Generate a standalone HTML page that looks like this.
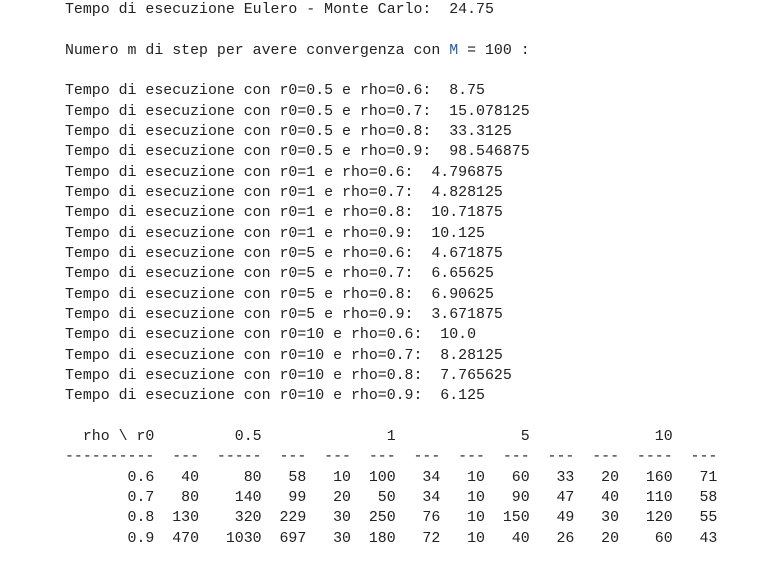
<!DOCTYPE html>
<html>
<head>
<meta charset="utf-8">
<style>
  html, body { margin: 0; padding: 0; background: #ffffff; width: 764px; height: 583px; overflow: hidden; }
  pre {
    margin: 0;
    position: absolute;
    left: 65px;
    top: 0px;
    font-family: "Liberation Mono", monospace;
    font-size: 14.9px;
    line-height: 20.33px;
    color: #212121;
  }
  .blue { color: #2a5db0; }
</style>
</head>
<body>
<pre><span>Tempo di esecuzione Eulero - Monte Carlo:  24.75</span>

<span>Numero m di step per avere convergenza con <span class="blue">M</span> = 100 :</span>

<span>Tempo di esecuzione con r0=0.5 e rho=0.6:  8.75
Tempo di esecuzione con r0=0.5 e rho=0.7:  15.078125
Tempo di esecuzione con r0=0.5 e rho=0.8:  33.3125
Tempo di esecuzione con r0=0.5 e rho=0.9:  98.546875
Tempo di esecuzione con r0=1 e rho=0.6:  4.796875
Tempo di esecuzione con r0=1 e rho=0.7:  4.828125
Tempo di esecuzione con r0=1 e rho=0.8:  10.71875
Tempo di esecuzione con r0=1 e rho=0.9:  10.125
Tempo di esecuzione con r0=5 e rho=0.6:  4.671875
Tempo di esecuzione con r0=5 e rho=0.7:  6.65625
Tempo di esecuzione con r0=5 e rho=0.8:  6.90625
Tempo di esecuzione con r0=5 e rho=0.9:  3.671875
Tempo di esecuzione con r0=10 e rho=0.6:  10.0
Tempo di esecuzione con r0=10 e rho=0.7:  8.28125
Tempo di esecuzione con r0=10 e rho=0.8:  7.765625
Tempo di esecuzione con r0=10 e rho=0.9:  6.125</span>

<span>  rho \ r0         0.5              1              5              10
----------  ---  -----  ---  ---  ---  ---  ---  ---  ---  ---  ----  ---
       0.6   40     80   58   10  100   34   10   60   33   20   160   71
       0.7   80    140   99   20   50   34   10   90   47   40   110   58
       0.8  130    320  229   30  250   76   10  150   49   30   120   55
       0.9  470   1030  697   30  180   72   10   40   26   20    60   43</span></pre>
</body>
</html>
